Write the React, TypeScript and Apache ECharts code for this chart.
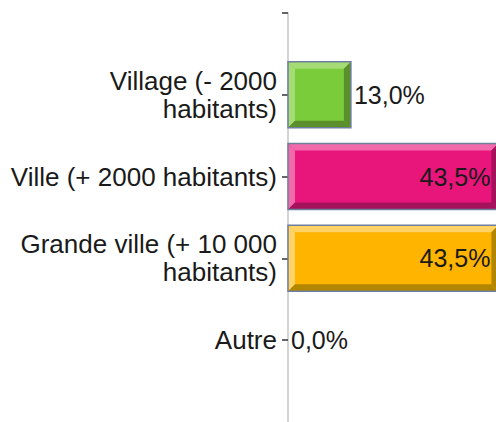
import React, { useEffect, useRef } from "react";
import * as echarts from "echarts";

const categories = [
  "Village (- 2000\nhabitants)",
  "Ville (+ 2000 habitants)",
  "Grande ville (+ 10 000\nhabitants)",
  "Autre",
];
const values = [13.0, 43.5, 43.5, 0.0];
const valueLabels = ["13,0%", "43,5%", "43,5%", "0,0%"];

const palettes = [
  { main: "#7acc3a", light: "#a5dc75", dark: "#5a8f2c" },
  { main: "#e8157a", light: "#f26aac", dark: "#a5125c" },
  { main: "#ffb400", light: "#ffd266", dark: "#b38600" },
  { main: "#cccccc", light: "#eeeeee", dark: "#999999" },
];

const FONT = "'Liberation Sans', Arial, sans-serif";

export default function App() {
  const ref = useRef<HTMLDivElement>(null);
  useEffect(() => {
    if (!ref.current) return;
    const chart = echarts.init(ref.current, undefined, { renderer: "svg" });
    const axisData = ["", ...categories, ""];
    chart.setOption({
      animation: false,
      grid: { left: 288, top: 13, right: 0, height: 408.75 },
      xAxis: { type: "value", min: 0, max: 43, show: false },
      yAxis: {
        type: "category",
        inverse: true,
        boundaryGap: false,
        data: axisData,
        axisLine: { show: true, lineStyle: { color: "#d4d4d4", width: 2 } },
        axisTick: {
          show: true,
          length: 6,
          interval: (i: number) => i < 5,
          lineStyle: { color: "#333333", width: 1.5 },
        },
        axisLabel: {
          interval: 0,
          margin: 11,
          fontSize: 26,
          lineHeight: 28,
          fontFamily: FONT,
          color: "#1a1a1a",
          align: "right",
        },
        splitLine: { show: false },
      },
      series: [
        {
          type: "custom",
          clip: false,
          data: values.map((v, i) => [v, i + 1]),
          renderItem: (params: any, api: any) => {
            const v = api.value(0);
            const idx = api.value(1);
            const start = api.coord([0, idx]);
            const end = api.coord([v, idx]);
            const h = api.size([0, 1])[1] * 0.81;
            const x0 = start[0];
            const x1 = end[0];
            const yc = start[1];
            const y0 = yc - h / 2;
            const y1 = yc + h / 2;
            const w = x1 - x0;
            const pal = palettes[params.dataIndex];
            const children: any[] = [];
            if (w > 0) {
              const b = Math.min(7, w / 2, h / 2);
              children.push({
                type: "rect",
                shape: { x: x0, y: y0, width: w, height: h },
                style: { fill: pal.main },
              });
              children.push({
                type: "polygon",
                shape: { points: [[x0, y0], [x1, y0], [x1 - b, y0 + b], [x0 + b, y0 + b]] },
                style: { fill: pal.light },
              });
              children.push({
                type: "polygon",
                shape: { points: [[x0, y0], [x0 + b, y0 + b], [x0 + b, y1 - b], [x0, y1]] },
                style: { fill: pal.light },
              });
              children.push({
                type: "polygon",
                shape: { points: [[x0, y1], [x0 + b, y1 - b], [x1 - b, y1 - b], [x1, y1]] },
                style: { fill: pal.dark },
              });
              children.push({
                type: "polygon",
                shape: { points: [[x1, y0], [x1, y1], [x1 - b, y1 - b], [x1 - b, y0 + b]] },
                style: { fill: pal.dark },
              });
              children.push({
                type: "rect",
                shape: { x: x0, y: y0, width: w, height: h },
                style: { fill: "none", stroke: "#6e7f9c", lineWidth: 1.5 },
              });
            }
            const inside = w > 120;
            children.push({
              type: "text",
              x: inside ? x1 - 8 : x1 + 3,
              y: yc,
              style: {
                text: valueLabels[params.dataIndex],
                fontSize: 25,
                fontFamily: FONT,
                fill: "#1a1a1a",
                align: inside ? "right" : "left",
                verticalAlign: "middle",
              },
            });
            return { type: "group", children };
          },
        },
      ],
    });
    return () => chart.dispose();
  }, []);
  return (
    <div
      ref={ref}
      style={{ position: "fixed", left: 0, top: 0, width: 496, height: 422, background: "#ffffff" }}
    />
  );
}
